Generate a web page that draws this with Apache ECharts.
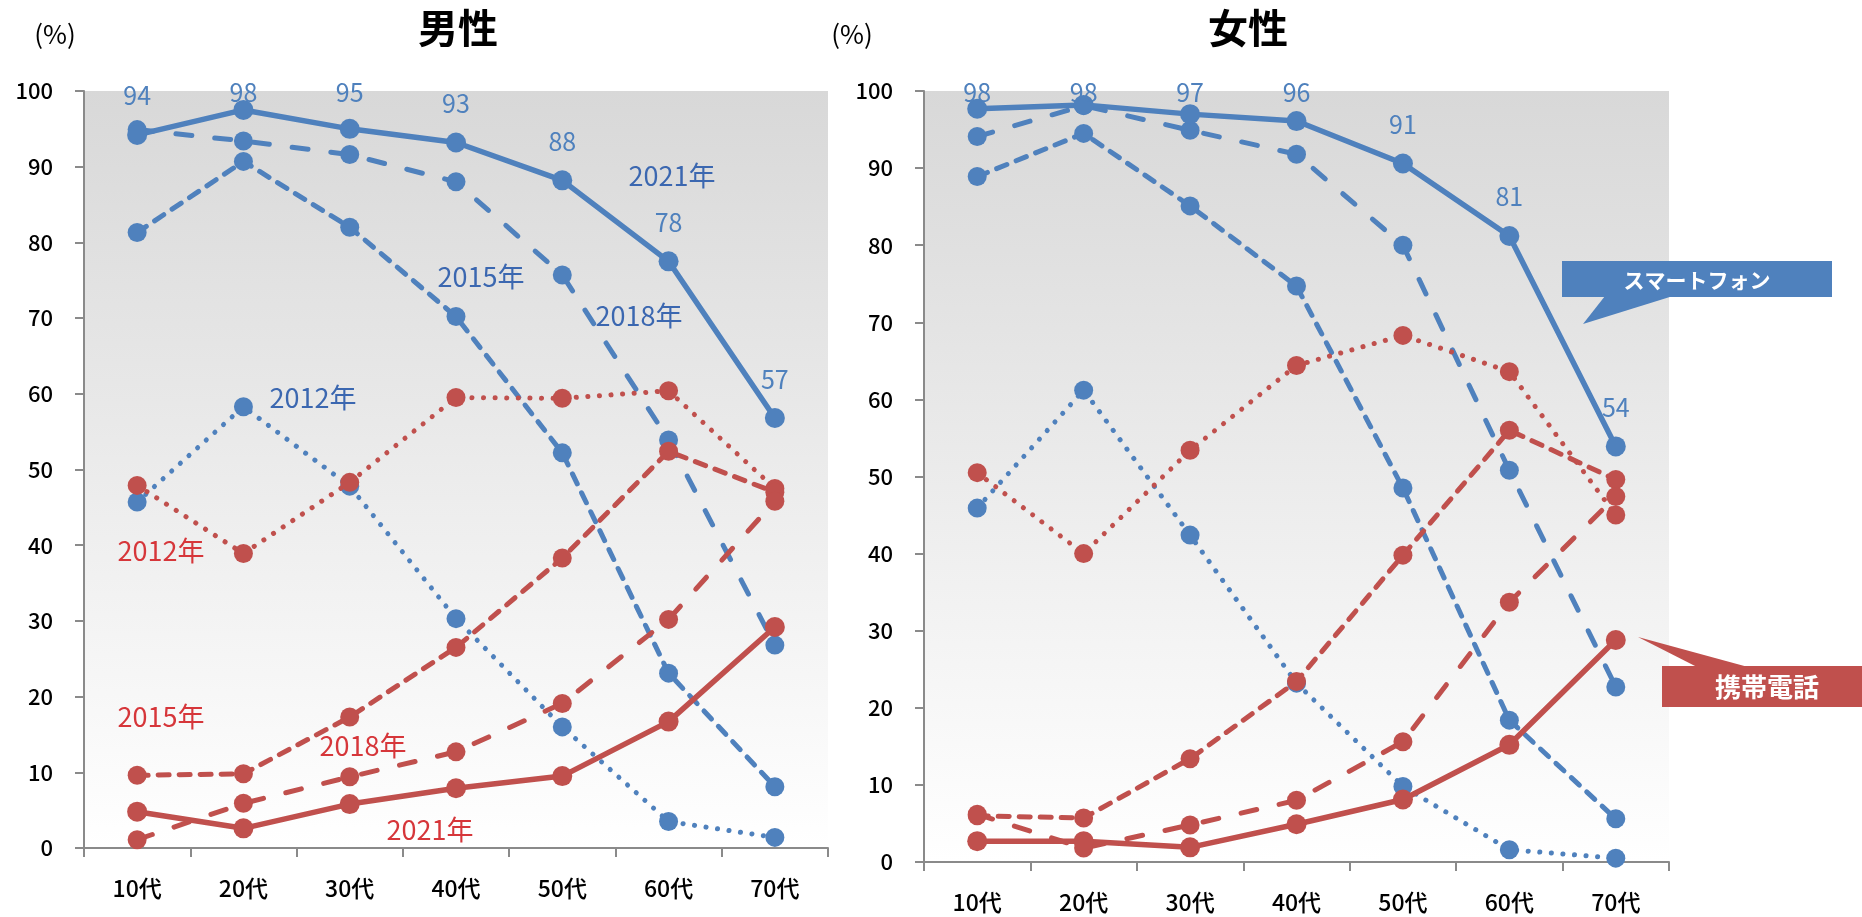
<!doctype html>
<html lang="ja">
<head>
    <meta charset="UTF-8">
    <script src="https://cdn.jsdelivr.net/npm/echarts@6/dist/echarts.min.js"></script>
    <title>スマートフォン・携帯電話 利用率</title>
    <style>
        body { margin: 0; background: #fff; }
        #main { width: 1862px; height: 917px; }
    </style>
</head>
<body>
<div id="main"></div>
<script type="text/javascript">
    // 年代
    var ages = ['10代', '20代', '30代', '40代', '50代', '60代', '70代'];

    // 男性 スマートフォン
    var maleSp2012 = [45.7, 58.3, 47.8, 30.3, 16.0, 3.5, 1.4];
    var maleSp2015 = [81.3, 90.7, 82.0, 70.2, 52.2, 23.1, 8.1];
    var maleSp2018 = [94.9, 93.4, 91.6, 88.0, 75.7, 53.9, 26.8];
    var maleSp2021 = [94.2, 97.5, 95.0, 93.2, 88.2, 77.5, 56.8];
    // 男性 携帯電話
    var maleFp2012 = [47.9, 38.9, 48.3, 59.5, 59.4, 60.4, 47.5];
    var maleFp2015 = [9.6, 9.8, 17.3, 26.5, 38.3, 52.4, 47.0];
    var maleFp2018 = [1.1, 5.9, 9.4, 12.7, 19.1, 30.2, 45.8];
    var maleFp2021 = [4.8, 2.6, 5.8, 7.9, 9.5, 16.7, 29.2];

    // 女性 スマートフォン
    var femaleSp2012 = [45.9, 61.2, 42.4, 23.2, 9.8, 1.6, 0.5];
    var femaleSp2015 = [88.9, 94.5, 85.1, 74.7, 48.5, 18.4, 5.6];
    var femaleSp2018 = [94.1, 98.1, 94.9, 91.8, 80.0, 50.8, 22.7];
    var femaleSp2021 = [97.7, 98.2, 97.0, 96.1, 90.6, 81.2, 53.9];
    // 女性 携帯電話
    var femaleFp2012 = [50.5, 40.0, 53.4, 64.4, 68.3, 63.6, 45.0];
    var femaleFp2015 = [6.0, 5.7, 13.4, 23.4, 39.8, 56.0, 49.6];
    var femaleFp2018 = [6.2, 1.8, 4.8, 8.0, 15.6, 33.7, 47.4];
    var femaleFp2021 = [2.7, 2.7, 1.9, 4.9, 8.1, 15.2, 28.8];

    var yTicks = [0, 10, 20, 30, 40, 50, 60, 70, 80, 90, 100];

    var BLUE = '#4f81bd';
    var RED = '#c0504d';
    var FONT = '"Noto Sans CJK JP", "Noto Sans", sans-serif';

    var myChart = echarts.init(document.getElementById('main'));

    // 線の種類
    var styles = {
        y2012: { type: [0.1, 11.5], width: 5, size: 19 },
        y2015: { type: [11, 10], width: 5, size: 19 },
        y2018: { type: [16, 23], width: 5, size: 19 },
        y2021: { type: 'solid', width: 5.5, size: 20 }
    };

    function makeLine(name, data, idx, color, st, z) {
        return {
            name: name,
            type: 'line',
            xAxisIndex: idx,
            yAxisIndex: idx,
            data: data,
            symbol: 'circle',
            symbolSize: st.size,
            z: z,
            itemStyle: { color: color },
            lineStyle: { color: color, width: st.width, type: st.type, cap: 'round' },
            emphasis: { disabled: true },
            animation: false
        };
    }

    // 2021年スマホのラベル（上端で詰める）
    function labelData(data, pxPerUnit) {
        return data.map(function (v) {
            var off = Math.min(39, (100 - v) * pxPerUnit - 1);
            return {
                value: v,
                label: {
                    show: true,
                    position: 'inside',
                    offset: [0, -off],
                    formatter: String(Math.round(v)),
                    color: BLUE,
                    fontSize: 25,
                    fontFamily: FONT
                }
            };
        });
    }

    function gridBg() {
        return {
            type: 'linear', x: 0, y: 0, x2: 0, y2: 1,
            colorStops: [{ offset: 0, color: '#d8d8d8' }, { offset: 1, color: '#ffffff' }]
        };
    }

    function xAx(idx) {
        return {
            type: 'category',
            gridIndex: idx,
            data: ages,
            boundaryGap: true,
            axisLine: { lineStyle: { color: '#8a8a8a', width: 2 } },
            axisTick: { show: true, length: 9, lineStyle: { color: '#8a8a8a', width: 2 } },
            axisLabel: { color: '#000', fontSize: 23, fontWeight: 500, margin: 29, fontFamily: FONT }
        };
    }

    function yAx(idx) {
        return {
            type: 'value',
            gridIndex: idx,
            min: yTicks[0],
            max: yTicks[yTicks.length - 1],
            interval: 10,
            axisLine: { show: true, lineStyle: { color: '#8a8a8a', width: 2 } },
            axisTick: { show: true, length: 9, lineStyle: { color: '#8a8a8a', width: 2 } },
            splitLine: { show: false },
            axisLabel: { color: '#000', fontSize: 22, fontWeight: 500, margin: 31, fontFamily: FONT }
        };
    }

    function txt(x, y, text, color, size, weight) {
        return {
            type: 'text',
            x: x,
            y: y,
            z: 100,
            style: {
                text: text,
                fill: color,
                font: (weight || 'normal') + ' ' + size + 'px ' + FONT,
                align: 'center',
                verticalAlign: 'middle',
                textAlign: 'center',
                textVerticalAlign: 'middle'
            }
        };
    }

    var blueAnno = '#3b67b0';
    var redAnno = '#d6363a';

    var option = {
        backgroundColor: '#fff',
        grid: [
            { left: 84, top: 91, width: 744, height: 757, show: true, borderWidth: 0, backgroundColor: gridBg() },
            { left: 924, top: 91, width: 745, height: 771, show: true, borderWidth: 0, backgroundColor: gridBg() }
        ],
        xAxis: [xAx(0), xAx(1)],
        yAxis: [yAx(0), yAx(1)],
        series: [
            makeLine('男性スマホ2012', maleSp2012, 0, BLUE, styles.y2012, 2),
            makeLine('男性スマホ2015', maleSp2015, 0, BLUE, styles.y2015, 3),
            makeLine('男性スマホ2018', maleSp2018, 0, BLUE, styles.y2018, 4),
            makeLine('男性スマホ2021', labelData(maleSp2021, 7.57), 0, BLUE, styles.y2021, 5),
            makeLine('男性携帯2012', maleFp2012, 0, RED, styles.y2012, 6),
            makeLine('男性携帯2015', maleFp2015, 0, RED, styles.y2015, 7),
            makeLine('男性携帯2018', maleFp2018, 0, RED, styles.y2018, 8),
            makeLine('男性携帯2021', maleFp2021, 0, RED, styles.y2021, 9),

            makeLine('女性スマホ2012', femaleSp2012, 1, BLUE, styles.y2012, 2),
            makeLine('女性スマホ2015', femaleSp2015, 1, BLUE, styles.y2015, 3),
            makeLine('女性スマホ2018', femaleSp2018, 1, BLUE, styles.y2018, 4),
            makeLine('女性スマホ2021', labelData(femaleSp2021, 7.71), 1, BLUE, styles.y2021, 5),
            makeLine('女性携帯2012', femaleFp2012, 1, RED, styles.y2012, 6),
            makeLine('女性携帯2015', femaleFp2015, 1, RED, styles.y2015, 7),
            makeLine('女性携帯2018', femaleFp2018, 1, RED, styles.y2018, 8),
            makeLine('女性携帯2021', femaleFp2021, 1, RED, styles.y2021, 9)
        ],
        graphic: [
            // タイトル
            txt(458, 28, '男性', '#000', 40, 'bold'),
            txt(1248, 28, '女性', '#000', 40, 'bold'),
            txt(55, 34, '(%)', '#000', 26),
            txt(852, 34, '(%)', '#000', 26),

            // 男性 年ラベル
            txt(672, 176, '2021年', blueAnno, 27),
            txt(481, 277, '2015年', blueAnno, 27),
            txt(639, 316, '2018年', blueAnno, 27),
            txt(313, 398, '2012年', blueAnno, 27),
            txt(161, 551, '2012年', redAnno, 27),
            txt(161, 717, '2015年', redAnno, 27),
            txt(363, 746, '2018年', redAnno, 27),
            txt(430, 830, '2021年', redAnno, 27),

            // 吹き出し スマートフォン
            { type: 'polygon', z: 90, shape: { points: [[1605, 296], [1583, 324], [1673, 296]] }, style: { fill: BLUE } },
            { type: 'rect', z: 90, shape: { x: 1562, y: 261, width: 270, height: 36 }, style: { fill: BLUE } },
            txt(1697, 280, 'スマートフォン', '#fff', 21, 'bold'),

            // 吹き出し 携帯電話
            { type: 'polygon', z: 90, shape: { points: [[1697, 667], [1638, 637], [1748, 667]] }, style: { fill: RED } },
            { type: 'rect', z: 90, shape: { x: 1662, y: 666, width: 200, height: 41 }, style: { fill: RED } },
            txt(1767, 687, '携帯電話', '#fff', 26, 'bold')
        ]
    };

    myChart.setOption(option);
</script>
</body>
</html>
